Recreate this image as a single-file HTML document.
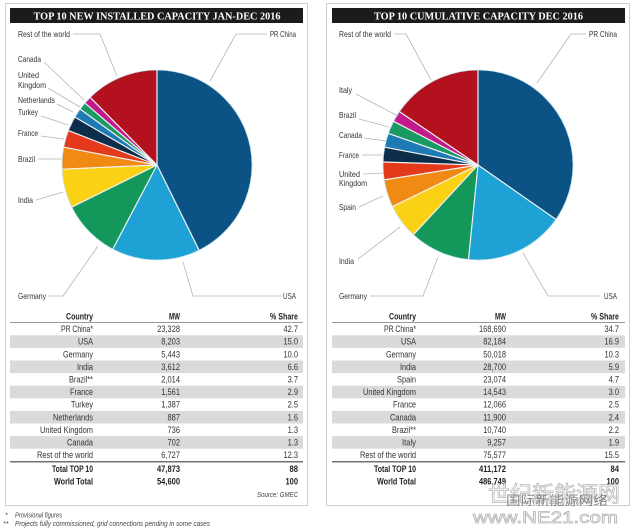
<!DOCTYPE html>
<html>
<head>
<meta charset="utf-8">
<style>
html,body{margin:0;padding:0;background:#fff;}
svg{display:block;}
text{font-family:"Liberation Sans Narrow","Liberation Sans",sans-serif;}
.lb{font-size:8.5px;fill:#333;}
.tb{font-size:9px;fill:#333;}
.hd{font-size:9px;fill:#222;font-weight:bold;}
.tt{font-family:"Liberation Serif",serif;font-weight:bold;font-size:10px;fill:#fff;}
.ft{font-size:7px;fill:#444;font-style:italic;}
.ld{fill:none;stroke:#b5b5b5;stroke-width:0.8;}
.sep{stroke:#f2f2f2;stroke-width:1.2;}
</style>
</head>
<body>
<svg width="636" height="530" viewBox="0 0 636 530" xmlns="http://www.w3.org/2000/svg">
<rect width="636" height="530" fill="#fff"/>

<!-- ============ LEFT PANEL ============ -->
<rect x="5.5" y="3.5" width="302" height="502" fill="#fff" stroke="#cfcfcf" stroke-width="1"/>
<rect x="10" y="8" width="293" height="15" fill="#1b1b1b"/>
<text class="tt" x="157" y="19.5" text-anchor="middle" textLength="247" lengthAdjust="spacingAndGlyphs">TOP 10 NEW INSTALLED CAPACITY JAN-DEC 2016</text>

<g transform="translate(157,165)">
  <g fill="none" stroke-width="95">
    <circle r="47.5" pathLength="100" stroke="#0b5384" stroke-dasharray="42.7 100" transform="rotate(-90)"/>
    <circle r="47.5" pathLength="100" stroke="#1ea1d4" stroke-dasharray="15 100" transform="rotate(63.72)"/>
    <circle r="47.5" pathLength="100" stroke="#14975a" stroke-dasharray="10 100" transform="rotate(117.72)"/>
    <circle r="47.5" pathLength="100" stroke="#fbd116" stroke-dasharray="6.6 100" transform="rotate(153.72)"/>
    <circle r="47.5" pathLength="100" stroke="#f18a12" stroke-dasharray="3.7 100" transform="rotate(177.48)"/>
    <circle r="47.5" pathLength="100" stroke="#e5391b" stroke-dasharray="2.9 100" transform="rotate(190.8)"/>
    <circle r="47.5" pathLength="100" stroke="#0d2e4b" stroke-dasharray="2.5 100" transform="rotate(201.24)"/>
    <circle r="47.5" pathLength="100" stroke="#1d7ab4" stroke-dasharray="1.6 100" transform="rotate(210.24)"/>
    <circle r="47.5" pathLength="100" stroke="#1a9a62" stroke-dasharray="1.3 100" transform="rotate(216)"/>
    <circle r="47.5" pathLength="100" stroke="#c2198b" stroke-dasharray="1.3 100" transform="rotate(220.68)"/>
    <circle r="47.5" pathLength="100" stroke="#b3111e" stroke-dasharray="12.4 100" transform="rotate(225.36)"/>
  </g>
  <g class="sep">
    <line x1="0" y1="0" x2="0" y2="-95" transform="rotate(0)"/>
    <line x1="0" y1="0" x2="0" y2="-95" transform="rotate(153.72)"/>
    <line x1="0" y1="0" x2="0" y2="-95" transform="rotate(207.72)"/>
    <line x1="0" y1="0" x2="0" y2="-95" transform="rotate(243.72)"/>
    <line x1="0" y1="0" x2="0" y2="-95" transform="rotate(267.48)"/>
    <line x1="0" y1="0" x2="0" y2="-95" transform="rotate(280.8)"/>
    <line x1="0" y1="0" x2="0" y2="-95" transform="rotate(291.24)"/>
    <line x1="0" y1="0" x2="0" y2="-95" transform="rotate(300.24)"/>
    <line x1="0" y1="0" x2="0" y2="-95" transform="rotate(306)"/>
    <line x1="0" y1="0" x2="0" y2="-95" transform="rotate(310.68)"/>
    <line x1="0" y1="0" x2="0" y2="-95" transform="rotate(315.36)"/>
  </g>
  <circle r="95" fill="none" stroke="#c4e4ee" stroke-width="0.8"/>
</g>

<g>
  <polyline class="ld" points="73,34 100,34 117,76"/>
  <polyline class="ld" points="267,34 236,34 210,81"/>
  <polyline class="ld" points="44,62 84,100"/>
  <polyline class="ld" points="48,88 80,107"/>
  <polyline class="ld" points="57,104 73,112"/>
  <polyline class="ld" points="41,116 68,125"/>
  <polyline class="ld" points="41,136 64,139"/>
  <polyline class="ld" points="38,159 62,159"/>
  <polyline class="ld" points="36,200 63,192"/>
  <polyline class="ld" points="48,296 63,296 98,246"/>
  <polyline class="ld" points="281,296 193,296 183,262"/>
</g>
<g class="lb">
  <text x="18" y="37" textLength="52" lengthAdjust="spacingAndGlyphs">Rest of the world</text>
  <text x="270" y="37" textLength="26" lengthAdjust="spacingAndGlyphs">PR China</text>
  <text x="18" y="62" textLength="23" lengthAdjust="spacingAndGlyphs">Canada</text>
  <text x="18" y="78" textLength="21" lengthAdjust="spacingAndGlyphs">United</text>
  <text x="18" y="88" textLength="28" lengthAdjust="spacingAndGlyphs">Kingdom</text>
  <text x="18" y="103" textLength="37" lengthAdjust="spacingAndGlyphs">Netherlands</text>
  <text x="18" y="115" textLength="20" lengthAdjust="spacingAndGlyphs">Turkey</text>
  <text x="18" y="136" textLength="20" lengthAdjust="spacingAndGlyphs">France</text>
  <text x="18" y="162" textLength="17" lengthAdjust="spacingAndGlyphs">Brazil</text>
  <text x="18" y="203" textLength="15" lengthAdjust="spacingAndGlyphs">India</text>
  <text x="18" y="299" textLength="28" lengthAdjust="spacingAndGlyphs">Germany</text>
  <text x="283" y="299" textLength="13" lengthAdjust="spacingAndGlyphs">USA</text>
</g>

<!-- left table -->
<g fill="#dadada">
  <rect x="10" y="335.3" width="293" height="12.6"/>
  <rect x="10" y="360.5" width="293" height="12.6"/>
  <rect x="10" y="385.7" width="293" height="12.6"/>
  <rect x="10" y="410.9" width="293" height="12.6"/>
  <rect x="10" y="436.1" width="293" height="12.6"/>
</g>
<line x1="10" y1="322.5" x2="303" y2="322.5" stroke="#777" stroke-width="0.7"/>
<line x1="10" y1="461.8" x2="303" y2="461.8" stroke="#444" stroke-width="1.2"/>
<g class="hd" text-anchor="end">
  <text x="93" y="319.5" textLength="27" lengthAdjust="spacingAndGlyphs">Country</text>
  <text x="180" y="319.5" textLength="11" lengthAdjust="spacingAndGlyphs">MW</text>
  <text x="298" y="319.5" textLength="28" lengthAdjust="spacingAndGlyphs">% Share</text>
</g>
<g class="tb" text-anchor="end">
  <text x="93" y="332.1" textLength="32" lengthAdjust="spacingAndGlyphs">PR China*</text>
  <text x="93" y="344.7" textLength="15" lengthAdjust="spacingAndGlyphs">USA</text>
  <text x="93" y="357.3" textLength="30" lengthAdjust="spacingAndGlyphs">Germany</text>
  <text x="93" y="369.9" textLength="16" lengthAdjust="spacingAndGlyphs">India</text>
  <text x="93" y="382.5" textLength="24" lengthAdjust="spacingAndGlyphs">Brazil**</text>
  <text x="93" y="395.1" textLength="23" lengthAdjust="spacingAndGlyphs">France</text>
  <text x="93" y="407.7" textLength="22" lengthAdjust="spacingAndGlyphs">Turkey</text>
  <text x="93" y="420.3" textLength="40" lengthAdjust="spacingAndGlyphs">Netherlands</text>
  <text x="93" y="432.9" textLength="53" lengthAdjust="spacingAndGlyphs">United Kingdom</text>
  <text x="93" y="445.5" textLength="26" lengthAdjust="spacingAndGlyphs">Canada</text>
  <text x="93" y="458.1" textLength="56" lengthAdjust="spacingAndGlyphs">Rest of the world</text>

  <text x="180" y="332.1" textLength="22.8" lengthAdjust="spacingAndGlyphs">23,328</text>
  <text x="180" y="344.7" textLength="18.7" lengthAdjust="spacingAndGlyphs">8,203</text>
  <text x="180" y="357.3" textLength="18.7" lengthAdjust="spacingAndGlyphs">5,443</text>
  <text x="180" y="369.9" textLength="18.7" lengthAdjust="spacingAndGlyphs">3,612</text>
  <text x="180" y="382.5" textLength="18.7" lengthAdjust="spacingAndGlyphs">2,014</text>
  <text x="180" y="395.1" textLength="18.7" lengthAdjust="spacingAndGlyphs">1,561</text>
  <text x="180" y="407.7" textLength="18.7" lengthAdjust="spacingAndGlyphs">1,387</text>
  <text x="180" y="420.3" textLength="12.5" lengthAdjust="spacingAndGlyphs">887</text>
  <text x="180" y="432.9" textLength="12.5" lengthAdjust="spacingAndGlyphs">736</text>
  <text x="180" y="445.5" textLength="12.5" lengthAdjust="spacingAndGlyphs">702</text>
  <text x="180" y="458.1" textLength="18.7" lengthAdjust="spacingAndGlyphs">6,727</text>

  <text x="298" y="332.1" textLength="14.5" lengthAdjust="spacingAndGlyphs">42.7</text>
  <text x="298" y="344.7" textLength="14.5" lengthAdjust="spacingAndGlyphs">15.0</text>
  <text x="298" y="357.3" textLength="14.5" lengthAdjust="spacingAndGlyphs">10.0</text>
  <text x="298" y="369.9" textLength="10.4" lengthAdjust="spacingAndGlyphs">6.6</text>
  <text x="298" y="382.5" textLength="10.4" lengthAdjust="spacingAndGlyphs">3.7</text>
  <text x="298" y="395.1" textLength="10.4" lengthAdjust="spacingAndGlyphs">2.9</text>
  <text x="298" y="407.7" textLength="10.4" lengthAdjust="spacingAndGlyphs">2.5</text>
  <text x="298" y="420.3" textLength="10.4" lengthAdjust="spacingAndGlyphs">1.6</text>
  <text x="298" y="432.9" textLength="10.4" lengthAdjust="spacingAndGlyphs">1.3</text>
  <text x="298" y="445.5" textLength="10.4" lengthAdjust="spacingAndGlyphs">1.3</text>
  <text x="298" y="458.1" textLength="14.5" lengthAdjust="spacingAndGlyphs">12.3</text>
</g>
<g class="hd" text-anchor="end">
  <text x="93" y="472" textLength="41" lengthAdjust="spacingAndGlyphs">Total TOP 10</text>
  <text x="93" y="484.5" textLength="39" lengthAdjust="spacingAndGlyphs">World Total</text>
  <text x="180" y="472" textLength="23" lengthAdjust="spacingAndGlyphs">47,873</text>
  <text x="180" y="484.5" textLength="23" lengthAdjust="spacingAndGlyphs">54,600</text>
  <text x="298" y="472" textLength="8.5" lengthAdjust="spacingAndGlyphs">88</text>
  <text x="298" y="484.5" textLength="12.5" lengthAdjust="spacingAndGlyphs">100</text>
</g>
<text class="ft" x="298" y="497" text-anchor="end" textLength="41" lengthAdjust="spacingAndGlyphs">Source: GMEC</text>
<text class="ft" x="5" y="517.5">*</text>
<text class="ft" x="15" y="517.5" textLength="47" lengthAdjust="spacingAndGlyphs">Provisional figures</text>
<text class="ft" x="3" y="526">**</text>
<text class="ft" x="15" y="526" textLength="195" lengthAdjust="spacingAndGlyphs">Projects fully commissioned, grid connections pending in some cases</text>

<!-- ============ RIGHT PANEL ============ -->
<rect x="326.5" y="3.5" width="303" height="502" fill="#fff" stroke="#cfcfcf" stroke-width="1"/>
<rect x="332" y="8" width="293" height="15" fill="#1b1b1b"/>
<text class="tt" x="478.5" y="19.5" text-anchor="middle" textLength="209" lengthAdjust="spacingAndGlyphs">TOP 10 CUMULATIVE CAPACITY DEC 2016</text>

<g transform="translate(478,165)">
  <g fill="none" stroke-width="95">
    <circle r="47.5" pathLength="100" stroke="#0b5384" stroke-dasharray="34.7 100" transform="rotate(-90)"/>
    <circle r="47.5" pathLength="100" stroke="#1ea1d4" stroke-dasharray="16.9 100" transform="rotate(34.92)"/>
    <circle r="47.5" pathLength="100" stroke="#14975a" stroke-dasharray="10.3 100" transform="rotate(95.76)"/>
    <circle r="47.5" pathLength="100" stroke="#fbd116" stroke-dasharray="5.9 100" transform="rotate(132.84)"/>
    <circle r="47.5" pathLength="100" stroke="#f18a12" stroke-dasharray="4.7 100" transform="rotate(154.08)"/>
    <circle r="47.5" pathLength="100" stroke="#e5391b" stroke-dasharray="3 100" transform="rotate(171)"/>
    <circle r="47.5" pathLength="100" stroke="#0d2e4b" stroke-dasharray="2.5 100" transform="rotate(181.8)"/>
    <circle r="47.5" pathLength="100" stroke="#1d7ab4" stroke-dasharray="2.4 100" transform="rotate(190.8)"/>
    <circle r="47.5" pathLength="100" stroke="#1a9a62" stroke-dasharray="2.2 100" transform="rotate(199.44)"/>
    <circle r="47.5" pathLength="100" stroke="#c2198b" stroke-dasharray="1.9 100" transform="rotate(207.36)"/>
    <circle r="47.5" pathLength="100" stroke="#b3111e" stroke-dasharray="15.5 100" transform="rotate(214.2)"/>
  </g>
  <g class="sep">
    <line x1="0" y1="0" x2="0" y2="-95" transform="rotate(0)"/>
    <line x1="0" y1="0" x2="0" y2="-95" transform="rotate(124.92)"/>
    <line x1="0" y1="0" x2="0" y2="-95" transform="rotate(185.76)"/>
    <line x1="0" y1="0" x2="0" y2="-95" transform="rotate(222.84)"/>
    <line x1="0" y1="0" x2="0" y2="-95" transform="rotate(244.08)"/>
    <line x1="0" y1="0" x2="0" y2="-95" transform="rotate(261)"/>
    <line x1="0" y1="0" x2="0" y2="-95" transform="rotate(271.8)"/>
    <line x1="0" y1="0" x2="0" y2="-95" transform="rotate(280.8)"/>
    <line x1="0" y1="0" x2="0" y2="-95" transform="rotate(289.44)"/>
    <line x1="0" y1="0" x2="0" y2="-95" transform="rotate(297.36)"/>
    <line x1="0" y1="0" x2="0" y2="-95" transform="rotate(304.2)"/>
  </g>
  <circle r="95" fill="none" stroke="#c4e4ee" stroke-width="0.8"/>
</g>

<g>
  <polyline class="ld" points="394,34 406,34 431,80"/>
  <polyline class="ld" points="586,34 571,34 537,83"/>
  <polyline class="ld" points="356,94 398,116"/>
  <polyline class="ld" points="359,119 389,127"/>
  <polyline class="ld" points="364,138 386,141"/>
  <polyline class="ld" points="362,155 383,155"/>
  <polyline class="ld" points="363,174 384,173"/>
  <polyline class="ld" points="359,207 383,196"/>
  <polyline class="ld" points="358,259 400,227"/>
  <polyline class="ld" points="370,296 423,296 438,257"/>
  <polyline class="ld" points="600,296 548,296 523,253"/>
</g>
<g class="lb">
  <text x="339" y="37" textLength="52" lengthAdjust="spacingAndGlyphs">Rest of the world</text>
  <text x="589" y="37" textLength="28" lengthAdjust="spacingAndGlyphs">PR China</text>
  <text x="339" y="93" textLength="13" lengthAdjust="spacingAndGlyphs">Italy</text>
  <text x="339" y="118" textLength="17" lengthAdjust="spacingAndGlyphs">Brazil</text>
  <text x="339" y="138" textLength="23" lengthAdjust="spacingAndGlyphs">Canada</text>
  <text x="339" y="158" textLength="20" lengthAdjust="spacingAndGlyphs">France</text>
  <text x="339" y="177" textLength="21" lengthAdjust="spacingAndGlyphs">United</text>
  <text x="339" y="186" textLength="28" lengthAdjust="spacingAndGlyphs">Kingdom</text>
  <text x="339" y="210" textLength="17" lengthAdjust="spacingAndGlyphs">Spain</text>
  <text x="339" y="264" textLength="15" lengthAdjust="spacingAndGlyphs">India</text>
  <text x="339" y="299" textLength="28" lengthAdjust="spacingAndGlyphs">Germany</text>
  <text x="604" y="299" textLength="13" lengthAdjust="spacingAndGlyphs">USA</text>
</g>

<!-- right table -->
<g fill="#dadada">
  <rect x="332" y="335.3" width="293" height="12.6"/>
  <rect x="332" y="360.5" width="293" height="12.6"/>
  <rect x="332" y="385.7" width="293" height="12.6"/>
  <rect x="332" y="410.9" width="293" height="12.6"/>
  <rect x="332" y="436.1" width="293" height="12.6"/>
</g>
<line x1="332" y1="322.5" x2="625" y2="322.5" stroke="#777" stroke-width="0.7"/>
<line x1="332" y1="461.8" x2="625" y2="461.8" stroke="#444" stroke-width="1.2"/>
<g class="hd" text-anchor="end">
  <text x="416" y="319.5" textLength="27" lengthAdjust="spacingAndGlyphs">Country</text>
  <text x="506" y="319.5" textLength="11" lengthAdjust="spacingAndGlyphs">MW</text>
  <text x="619" y="319.5" textLength="28" lengthAdjust="spacingAndGlyphs">% Share</text>
</g>
<g class="tb" text-anchor="end">
  <text x="416" y="332.1" textLength="32" lengthAdjust="spacingAndGlyphs">PR China*</text>
  <text x="416" y="344.7" textLength="15" lengthAdjust="spacingAndGlyphs">USA</text>
  <text x="416" y="357.3" textLength="30" lengthAdjust="spacingAndGlyphs">Germany</text>
  <text x="416" y="369.9" textLength="16" lengthAdjust="spacingAndGlyphs">India</text>
  <text x="416" y="382.5" textLength="19" lengthAdjust="spacingAndGlyphs">Spain</text>
  <text x="416" y="395.1" textLength="53" lengthAdjust="spacingAndGlyphs">United Kingdom</text>
  <text x="416" y="407.7" textLength="23" lengthAdjust="spacingAndGlyphs">France</text>
  <text x="416" y="420.3" textLength="26" lengthAdjust="spacingAndGlyphs">Canada</text>
  <text x="416" y="432.9" textLength="24" lengthAdjust="spacingAndGlyphs">Brazil**</text>
  <text x="416" y="445.5" textLength="14" lengthAdjust="spacingAndGlyphs">Italy</text>
  <text x="416" y="458.1" textLength="56" lengthAdjust="spacingAndGlyphs">Rest of the world</text>

  <text x="506" y="332.1" textLength="27" lengthAdjust="spacingAndGlyphs">168,690</text>
  <text x="506" y="344.7" textLength="22.8" lengthAdjust="spacingAndGlyphs">82,184</text>
  <text x="506" y="357.3" textLength="22.8" lengthAdjust="spacingAndGlyphs">50,018</text>
  <text x="506" y="369.9" textLength="22.8" lengthAdjust="spacingAndGlyphs">28,700</text>
  <text x="506" y="382.5" textLength="22.8" lengthAdjust="spacingAndGlyphs">23,074</text>
  <text x="506" y="395.1" textLength="22.8" lengthAdjust="spacingAndGlyphs">14,543</text>
  <text x="506" y="407.7" textLength="22.8" lengthAdjust="spacingAndGlyphs">12,066</text>
  <text x="506" y="420.3" textLength="22.8" lengthAdjust="spacingAndGlyphs">11,900</text>
  <text x="506" y="432.9" textLength="22.8" lengthAdjust="spacingAndGlyphs">10,740</text>
  <text x="506" y="445.5" textLength="18.7" lengthAdjust="spacingAndGlyphs">9,257</text>
  <text x="506" y="458.1" textLength="22.8" lengthAdjust="spacingAndGlyphs">75,577</text>

  <text x="619" y="332.1" textLength="14.5" lengthAdjust="spacingAndGlyphs">34.7</text>
  <text x="619" y="344.7" textLength="14.5" lengthAdjust="spacingAndGlyphs">16.9</text>
  <text x="619" y="357.3" textLength="14.5" lengthAdjust="spacingAndGlyphs">10.3</text>
  <text x="619" y="369.9" textLength="10.4" lengthAdjust="spacingAndGlyphs">5.9</text>
  <text x="619" y="382.5" textLength="10.4" lengthAdjust="spacingAndGlyphs">4.7</text>
  <text x="619" y="395.1" textLength="10.4" lengthAdjust="spacingAndGlyphs">3.0</text>
  <text x="619" y="407.7" textLength="10.4" lengthAdjust="spacingAndGlyphs">2.5</text>
  <text x="619" y="420.3" textLength="10.4" lengthAdjust="spacingAndGlyphs">2.4</text>
  <text x="619" y="432.9" textLength="10.4" lengthAdjust="spacingAndGlyphs">2.2</text>
  <text x="619" y="445.5" textLength="10.4" lengthAdjust="spacingAndGlyphs">1.9</text>
  <text x="619" y="458.1" textLength="14.5" lengthAdjust="spacingAndGlyphs">15.5</text>
</g>
<g class="hd" text-anchor="end">
  <text x="416" y="472" textLength="42" lengthAdjust="spacingAndGlyphs">Total TOP 10</text>
  <text x="416" y="484.5" textLength="39" lengthAdjust="spacingAndGlyphs">World Total</text>
  <text x="506" y="472" textLength="27" lengthAdjust="spacingAndGlyphs">411,172</text>
  <text x="506" y="484.5" textLength="27" lengthAdjust="spacingAndGlyphs">486,749</text>
  <text x="619" y="472" textLength="8.5" lengthAdjust="spacingAndGlyphs">84</text>
  <text x="619" y="484.5" textLength="12.5" lengthAdjust="spacingAndGlyphs">100</text>
</g>

<!-- watermark -->
<g>
  <text x="488" y="502" font-family="'Liberation Sans','Noto Sans CJK SC',sans-serif" font-size="22" fill="rgba(255,255,255,0.55)" stroke="#b8b8b8" stroke-width="0.8" textLength="132" lengthAdjust="spacingAndGlyphs">世纪新能源网</text>
  <text x="506" y="505" font-family="'Liberation Sans','Noto Sans CJK SC',sans-serif" font-size="13" fill="#6a6a6a" opacity="0.75" textLength="102" lengthAdjust="spacingAndGlyphs">国际新能源网络</text>
  <text x="473" y="523" font-family="'Liberation Sans',sans-serif" font-size="17" fill="#fff" stroke="#b5b5b5" stroke-width="0.8" textLength="145" lengthAdjust="spacingAndGlyphs">www.NE21.com</text>
</g>
</svg>
</body>
</html>
